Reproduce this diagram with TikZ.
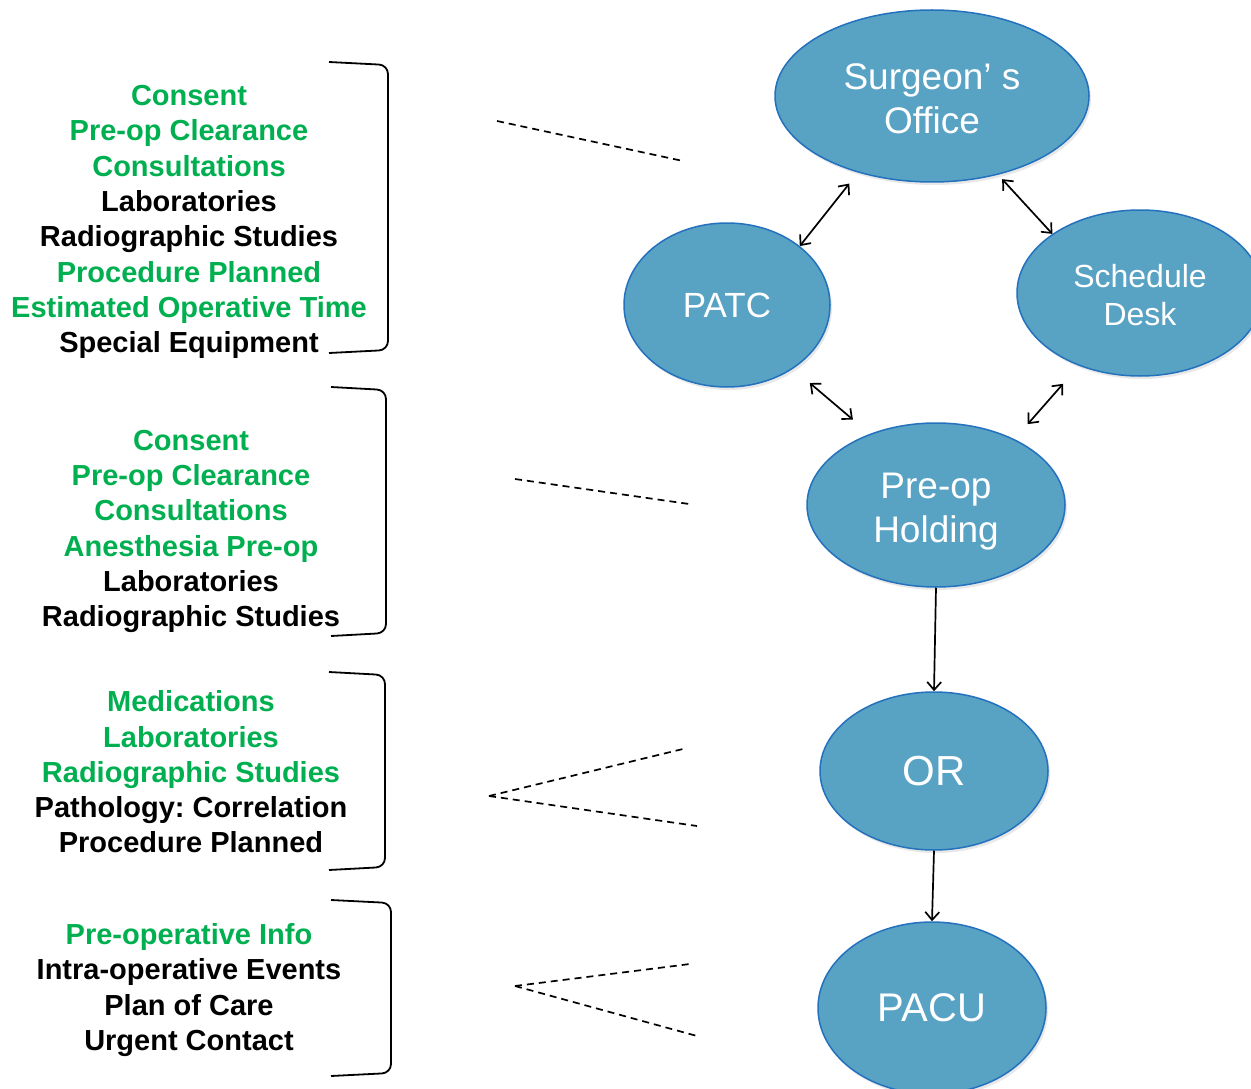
\documentclass[tikz,border=0pt]{standalone}
\usepackage{fontspec}
\setmainfont{Liberation Sans}
\usetikzlibrary{shapes.geometric,arrows.meta,shadows}
\definecolor{grn}{RGB}{0,176,80}
\definecolor{bub}{RGB}{88,162,196}
\definecolor{bubline}{RGB}{36,113,190}
\frenchspacing
\begin{document}
\begin{tikzpicture}[x=1pt,y=-1pt,
  bubble/.style={ellipse, draw=bubline, line width=1.5pt, fill=bub, text=white, inner sep=0pt, align=center,
    drop shadow={opacity=0.18, shadow xshift=2pt, shadow yshift=-3pt}},
  lst/.style={align=center, font=\bfseries\fontsize{29}{35.3}\selectfont},
  dbl/.style={{Straight Barb[length=8pt,width=14pt]}-{Straight Barb[length=8pt,width=14pt]}, line width=1.7pt},
  one/.style={-{Straight Barb[length=8pt,width=14pt]}, line width=1.7pt},
  dsh/.style={dash pattern=on 7pt off 5pt, line width=1.7pt},
  brk/.style={line width=1.8pt, rounded corners=9pt}]
\useasboundingbox (0,0) rectangle (1251,1089);
\fill[white] (0,0) rectangle (1251,1089);
\clip (0,0) rectangle (1251,1089);

% ellipses
\node[bubble, minimum width=314pt, minimum height=172pt, font=\fontsize{37}{44}\selectfont] (so) at (932,96) {\rule{0pt}{30.5pt}Surgeon’ s\\Office};
\node[bubble, minimum width=206pt, minimum height=164pt, font=\fontsize{35}{42}\selectfont] (patc) at (727,305) {PATC};
\node[bubble, minimum width=246pt, minimum height=166pt, font=\fontsize{32}{38}\selectfont] (sd) at (1140,293) {\rule{0pt}{27.5pt}Schedule\\Desk};
\node[bubble, minimum width=258pt, minimum height=164pt, font=\fontsize{37}{44}\selectfont] (pre) at (936,505) {\rule{0pt}{38.5pt}Pre-op\\Holding};
\node[bubble, minimum width=228pt, minimum height=158pt, font=\fontsize{42}{50}\selectfont] (or) at (934,771) {OR};
\node[bubble, minimum width=228pt, minimum height=172pt, font=\fontsize{40}{48}\selectfont] (pacu) at (932,1008) {PACU};

% arrows
\draw[dbl, shorten <=14pt] (so.226) -- (patc.39);
\draw[dbl, shorten <=6pt] (so.310) -- (sd.146);
\draw[dbl, shorten <=22pt, shorten >=22pt] (patc.316) -- (pre.133);
\draw[dbl, shorten <=24pt, shorten >=20pt] (sd.230) -- (pre.40);
\draw[one] (pre.south) -- (or.north);
\draw[one] (or.south) -- (pacu.north);

% text blocks
\node[lst] (t1) at (189,222) {\textcolor{grn}{Consent}\\\textcolor{grn}{Pre-op Clearance}\\\textcolor{grn}{Consultations}\\Laboratories\\Radiographic Studies\\\textcolor{grn}{Procedure Planned}\\\textcolor{grn}{Estimated Operative Time}\\Special Equipment};
\node[lst] (t2) at (191,531.5) {\textcolor{grn}{Consent}\\\textcolor{grn}{Pre-op Clearance}\\\textcolor{grn}{Consultations}\\\textcolor{grn}{Anesthesia Pre-op}\\Laboratories\\Radiographic Studies};
\node[lst] (t3) at (191,772) {\textcolor{grn}{Medications}\\\textcolor{grn}{Laboratories}\\\textcolor{grn}{Radiographic Studies}\\Pathology: Correlation\\Procedure Planned};
\node[lst] (t4) at (189,990) {\textcolor{grn}{Pre-operative Info}\\Intra-operative Events\\Plan of Care\\Urgent Contact};

% brackets
\draw[brk] (329,62) -- (388,65) -- (388,350) -- (329,353);
\draw[brk] (331,387) -- (386,390) -- (386,633) -- (331,636);
\draw[brk] (329,672) -- (385,675) -- (385,867) -- (329,870);
\draw[brk] (331,900) -- (391,903) -- (391,1073) -- (331,1076);

% dashed lines
\coordinate (d1a) at (497,121); \coordinate (d1b) at (683,161);
\coordinate (d2a) at (515,479); \coordinate (d2b) at (689,504);
\coordinate (d3o) at (489,796); \coordinate (d3a) at (687,748); \coordinate (d3b) at (697,826);
\coordinate (d4o) at (515,986); \coordinate (d4a) at (690,964); \coordinate (d4b) at (697,1036);
\draw[dsh] (d1a) -- (d1b);
\draw[dsh] (d2a) -- (d2b);
\draw[dsh] (d3o) -- (d3a);
\draw[dsh] (d3o) -- (d3b);
\draw[dsh] (d4o) -- (d4a);
\draw[dsh] (d4o) -- (d4b);
\end{tikzpicture}
\end{document}
